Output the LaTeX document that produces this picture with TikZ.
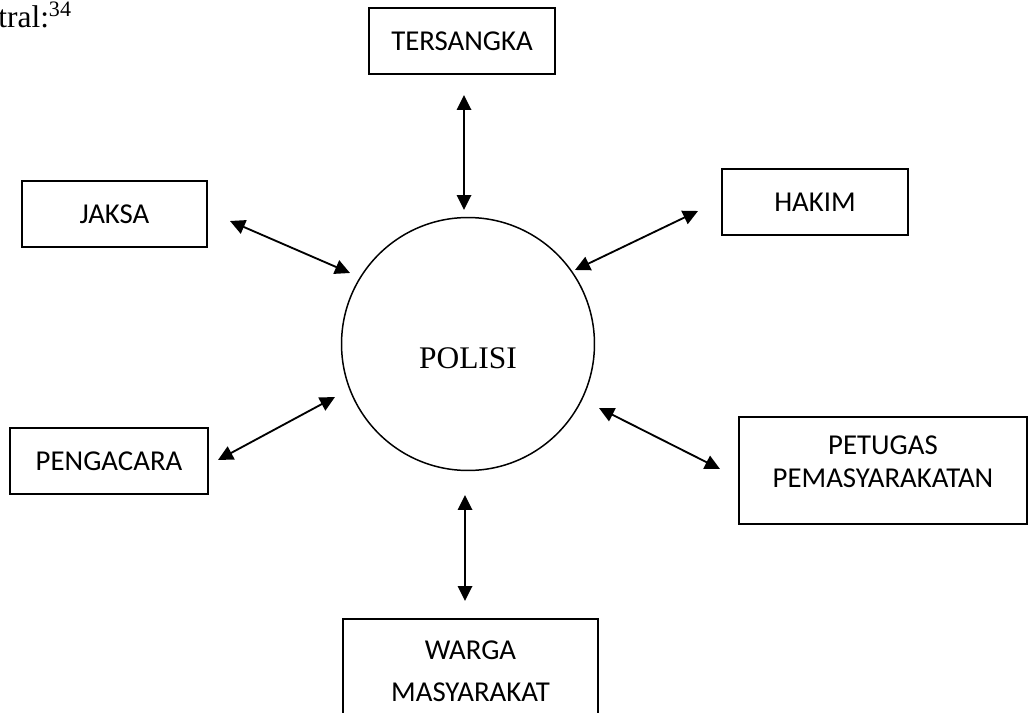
\documentclass[tikz,border=0pt]{standalone}
\usepackage{fontspec}
\setmainfont{Liberation Serif}
\newfontfamily\boxfont{Carlito}
\usetikzlibrary{arrows.meta}
\begin{document}
\begin{tikzpicture}[x=0.02cm,y=-0.02cm,
  boxtext/.style={font=\boxfont\fontsize{16.4}{18.8}\selectfont, align=center},
  box/.style={draw, line width=1pt, boxtext, inner sep=0pt},
  link/.style={{Triangle[length=0.3cm,width=0.29cm]}-{Triangle[length=0.3cm,width=0.29cm]}, line width=1.05pt},
  serif/.style={font=\fontsize{17.9}{20.6}\selectfont}]
\useasboundingbox (0,0) rectangle (1029,713);
\clip (0,0) rectangle (1029,713);

\node[serif, anchor=base west, inner sep=0pt] (src) at (-2,28) {tral:\textsuperscript{34}};

\node[box, minimum width=3.72cm, minimum height=1.32cm] (tersangka) at (462,41) {TERSANGKA};
\node[box, minimum width=3.70cm, minimum height=1.32cm] (jaksa) at (114.5,214) {JAKSA};
\node[box, minimum width=3.72cm, minimum height=1.32cm] (hakim) at (815,202) {HAKIM};
\node[box, minimum width=3.96cm, minimum height=1.32cm] (pengacara) at (109,461) {PENGACARA};
\node[box, minimum width=5.76cm, minimum height=2.14cm,
      label={[boxtext, yshift=0.18cm]center:PETUGAS\\PEMASYARAKATAN}] (petugas) at (883,470.5) {};
\node[box, minimum width=5.10cm, minimum height=2.14cm,
      label={[boxtext, yshift=0.03cm]center:WARGA\\[5pt]MASYARAKAT}] (warga) at (470.5,672.5) {};

\node[draw, circle, line width=0.85pt, minimum size=5.06cm, inner sep=0pt,
      label={[serif, yshift=-0.28cm]center:POLISI}] (polisi) at (468,344) {};

\coordinate (t1) at (464,95);  \coordinate (t2) at (464,210);
\coordinate (j1) at (230,221); \coordinate (j2) at (350,273);
\coordinate (h1) at (698,211); \coordinate (h2) at (575,270);
\coordinate (p1) at (218,460); \coordinate (p2) at (335,397);
\coordinate (q1) at (599,408); \coordinate (q2) at (720,469);
\coordinate (w1) at (465,495); \coordinate (w2) at (465,601);

\draw[link] (t1) -- (t2);
\draw[link] (j1) -- (j2);
\draw[link] (h1) -- (h2);
\draw[link] (p1) -- (p2);
\draw[link] (q1) -- (q2);
\draw[link] (w1) -- (w2);
\end{tikzpicture}
\end{document}
